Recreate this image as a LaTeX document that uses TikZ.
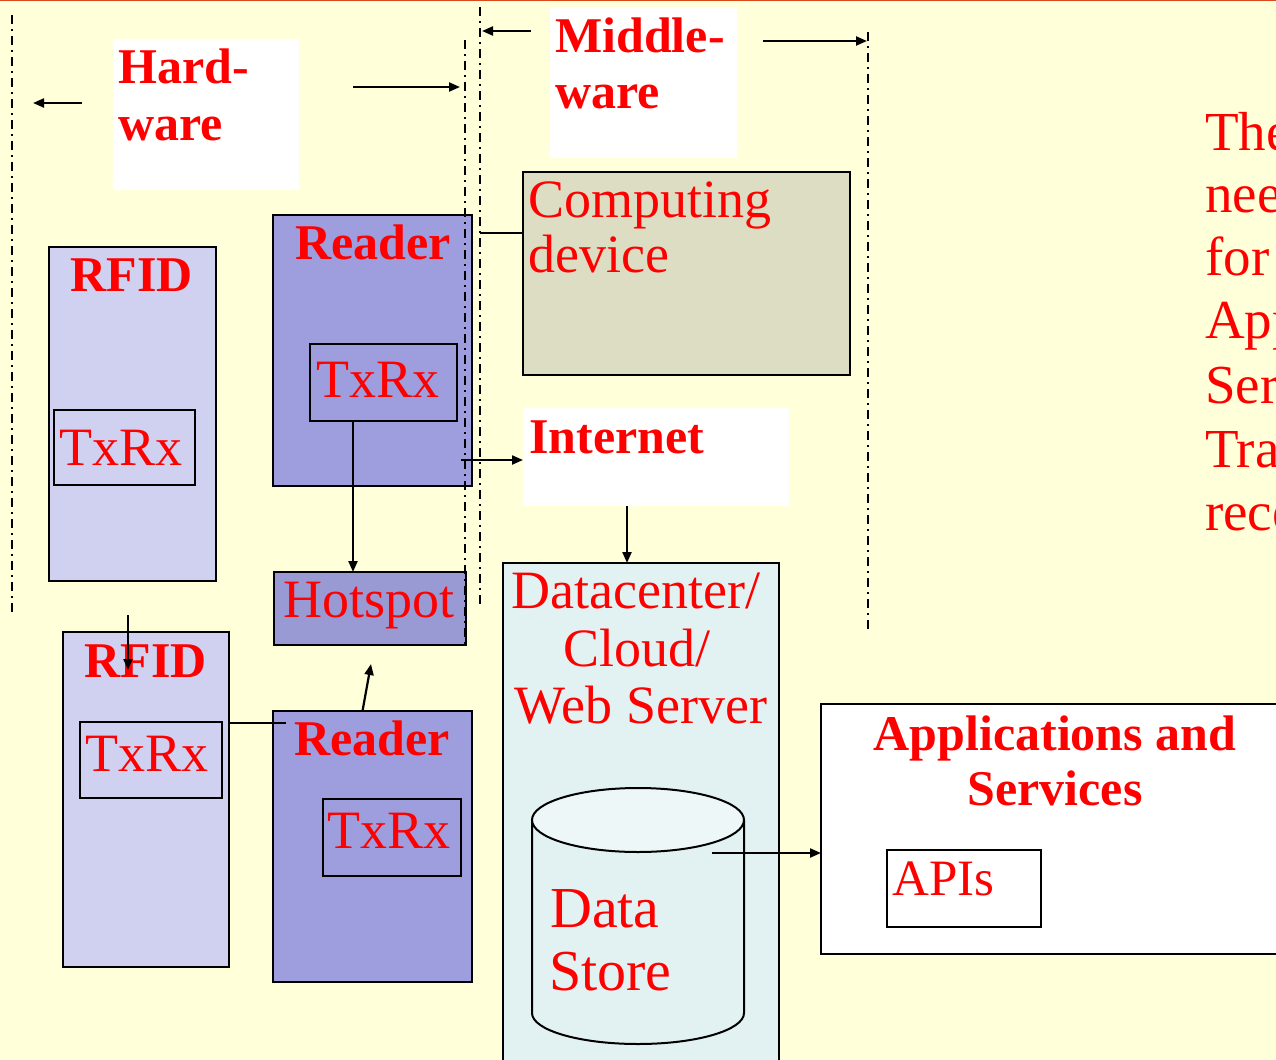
\documentclass[tikz,border=0pt]{standalone}
\usepackage[T1,TU]{fontenc}
\usepackage{fontspec}
\usetikzlibrary{arrows.meta}
\newfontfamily\timesfont{Liberation Serif}
% Palatino-style face for the box labels, with fallbacks
\IfFileExists{ec-qplr.tfm}{\def\palfam{qpl}}{%
  \IfFileExists{uplr8t.tfm}{\def\palfam{ppl}}{\def\palfam{}}}
\ifx\palfam\empty
  \newcommand\palfont{\timesfont}
\else
  \newcommand\palfont{\fontencoding{T1}\fontfamily{\palfam}\selectfont}
\fi

\definecolor{paper}{HTML}{FFFFDA}
\definecolor{topline}{HTML}{D84A1B}
\definecolor{tagfill}{HTML}{D0D0F0}
\definecolor{readerfill}{HTML}{9E9EDE}
\definecolor{hotfill}{HTML}{9999D3}
\definecolor{compfill}{HTML}{DDDDC3}
\definecolor{cloudfill}{HTML}{E2F2F2}
\definecolor{disktop}{HTML}{EEF7F8}

\tikzset{
  box/.style={draw=black, line width=2.2bp, inner sep=0pt, outer sep=0pt, anchor=north west},
  tagbox/.style={box, fill=tagfill},
  readerbox/.style={box, fill=readerfill},
  whitebox/.style={fill=white, inner sep=0pt, outer sep=0pt, anchor=north west},
  headB/.style={text=red, inner sep=0pt, font=\palfont\bfseries\fontsize{50bp}{58bp}\selectfont},
  headN/.style={text=red, inner sep=0pt, font=\palfont\fontsize{54bp}{62bp}\selectfont},
  sideT/.style={text=red, inner sep=0pt, anchor=base west, font=\timesfont\fontsize{55bp}{64bp}\selectfont},
  arr/.style={line width=2.2bp, -{Triangle[length=11bp,width=9bp]}},
  link/.style={line width=2bp},
  border/.style={line width=1.8bp, dash pattern=on 9bp off 5bp on 2bp off 5bp},
}

\begin{document}
\begin{tikzpicture}[x=1bp, y=-1bp]
\useasboundingbox (0,0) rectangle (1276,1060);
\clip (0,0) rectangle (1276,1060);
\fill[paper] (0,0) rectangle (1276,1060);
\draw[topline, line width=2bp] (0,0) -- (1276,0);

% layer labels
\node[whitebox, minimum width=186bp, minimum height=151bp] (hwLabel) at (113,39) {};
\node[headB, anchor=base west] (hwText1) at (118,83) {Hard-};
\node[headB, anchor=base west] (hwText2) at (118,140) {ware};
\node[whitebox, minimum width=187bp, minimum height=151bp] (mwLabel) at (550,7) {};
\node[headB, anchor=base west] (mwText1) at (555,52) {Middle-};
\node[headB, anchor=base west] (mwText2) at (555,108) {ware};

% hardware side
\node[tagbox, minimum width=167bp, minimum height=334bp] (rfidA) at (49,247) {};
\node[headB, anchor=base] (rfidAText) at (132,291) {RFID};
\node[box, minimum width=141bp, minimum height=75bp] (rfidAtx) at (54,410) {};
\node[headN, anchor=base west] (rfidAtxText) at (59,465) {TxRx};

\node[readerbox, minimum width=199bp, minimum height=271bp] (readerA) at (273,215) {};
\node[headB, anchor=base] (readerAText) at (373,259) {Reader};
\node[box, minimum width=147bp, minimum height=77bp] (readerAtx) at (310,344) {};
\node[headN, anchor=base west] (readerAtxText) at (316,397) {TxRx};

\node[box, fill=hotfill, minimum width=192bp, minimum height=73bp] (hotspot) at (274,572) {};
\node[headN, anchor=base west] (hotText) at (283,617) {Hotspot};

\node[tagbox, minimum width=166bp, minimum height=335bp] (rfidB) at (63,632) {};
\node[headB, anchor=base] (rfidBText) at (146,677) {RFID};
\node[box, minimum width=142bp, minimum height=76bp] (rfidBtx) at (80,722) {};
\node[headN, anchor=base west] (rfidBtxText) at (85,771) {TxRx};

\node[readerbox, minimum width=199bp, minimum height=271bp] (readerB) at (273,711) {};
\node[headB, anchor=base] (readerBText) at (372,755) {Reader};
\node[box, minimum width=138bp, minimum height=77bp] (readerBtx) at (323,799) {};
\node[headN, anchor=base west] (readerBtxText) at (327,848) {TxRx};

% middleware side
\node[box, fill=compfill, minimum width=327bp, minimum height=203bp] (compDev) at (523,172) {};
\node[headN, anchor=base west] (compText1) at (528,217) {Computing};
\node[headN, anchor=base west] (compText2) at (528,272) {device};

\node[whitebox, minimum width=266bp, minimum height=98bp] (internet) at (523,408) {};
\node[headB, anchor=base west] (internetText) at (529,453) {Internet};

\node[box, fill=cloudfill, minimum width=276bp, minimum height=520bp] (cloud) at (503,563) {};
\node[headN, anchor=base] (cloudText1) at (636,608) {Datacenter/};
\node[headN, anchor=base] (cloudText2) at (637,666) {Cloud/};
\node[headN, anchor=base] (cloudText3) at (641,723) {Web Server};

% data store cylinder
\fill[cloudfill] (532,820) -- (532,1013) arc[start angle=180, end angle=0, x radius=106, y radius=31] -- (744,820) -- cycle;
\draw[line width=2bp] (532,820) -- (532,1013) arc[start angle=180, end angle=0, x radius=106, y radius=31] -- (744,820);
\draw[line width=2bp, fill=disktop] (638,820) ellipse[x radius=106, y radius=32];
\node[headN, anchor=base west, font=\palfont\fontsize{58bp}{66bp}\selectfont] (storeText1) at (550,927) {Data};
\node[headN, anchor=base west, font=\palfont\fontsize{58bp}{66bp}\selectfont] (storeText2) at (549,990) {Store};
\coordinate (storeOut) at (712,853);

% applications
\node[box, fill=white, minimum width=480bp, minimum height=250bp] (apps) at (821,704) {};
\node[headB, anchor=base] (appsText1) at (1055,750) {Applications and};
\node[headB, anchor=base] (appsText2) at (1055,805) {Services};
\node[box, minimum width=154bp, minimum height=77bp] (apis) at (887,850) {};
\node[headN, anchor=base west, font=\palfont\fontsize{51bp}{58bp}\selectfont] (apisText) at (892,895) {APIs};

% side text
\node[sideT] (side1) at (1205,150) {The};
\node[sideT] (side2) at (1205,212) {need};
\node[sideT] (side3) at (1205,275) {for};
\node[sideT] (side4) at (1205,338) {Applications};
\node[sideT] (side5) at (1205,403) {Services};
\node[sideT] (side6) at (1205,467) {Transactions};
\node[sideT] (side7) at (1205,530) {received};

% layer borders
\coordinate (hwLeftTop) at (12,15);   \coordinate (hwLeftBot) at (12,615);
\coordinate (hwRightTop) at (465,40); \coordinate (hwRightBot) at (465,646);
\coordinate (mwLeftTop) at (480,7);   \coordinate (mwLeftBot) at (480,608);
\coordinate (mwRightTop) at (868,32); \coordinate (mwRightBot) at (868,632);
\draw[border] (hwLeftTop) -- (hwLeftBot);
\draw[border] (hwRightTop) -- (hwRightBot);
\draw[border] (mwLeftTop) -- (mwLeftBot);
\draw[border] (mwRightTop) -- (mwRightBot);

% extent arrows
\coordinate (hwArrL0) at (82,103);  \coordinate (hwArrL1) at (33,103);
\coordinate (hwArrR0) at (353,87);  \coordinate (hwArrR1) at (460,87);
\coordinate (mwArrL0) at (531,31);  \coordinate (mwArrL1) at (482,31);
\coordinate (mwArrR0) at (763,41);  \coordinate (mwArrR1) at (867,41);
\draw[arr] (hwArrL0) -- (hwArrL1);
\draw[arr] (hwArrR0) -- (hwArrR1);
\draw[arr] (mwArrL0) -- (mwArrL1);
\draw[arr] (mwArrR0) -- (mwArrR1);

% connectors
\coordinate (compIn) at ([yshift=-61bp]compDev.north west);
\draw[link] (compIn) -- (compIn -| mwLeftTop);

\coordinate (readerAdown) at ([xshift=43bp]readerAtx.south west);
\draw[arr] (readerAdown) -- (readerAdown |- hotspot.north);

\coordinate (netIn) at ([yshift=-3bp]internet.west);
\draw[arr] ([xshift=-62bp]netIn) -- (netIn);

\coordinate (netDown) at ([xshift=-29bp]internet.south);
\draw[arr] (netDown) -- (netDown |- cloud.north);

\coordinate (tagDropStart) at (128,615);
\coordinate (tagDropEnd) at (128,670);
\draw[arr] (tagDropStart) -- (tagDropEnd);

\coordinate (tagLink) at ([yshift=-91bp]rfidB.north east);
\coordinate (readerBin) at ([xshift=13bp]readerB.west);
\draw[link] (tagLink) -- (tagLink -| readerBin);

\coordinate (hotspotFeed) at (371,664);
\draw[arr] ([xshift=-10bp]readerB.north) -- (hotspotFeed);

\draw[arr] (storeOut) -- (storeOut -| apps.west);
\end{tikzpicture}
\end{document}
